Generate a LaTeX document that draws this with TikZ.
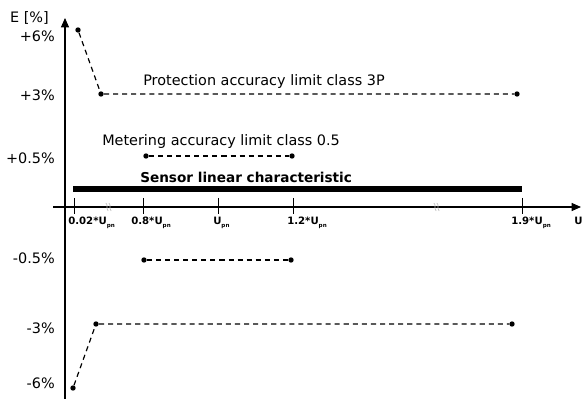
\documentclass[tikz,border=0pt]{standalone}
\usepackage{fontspec}
\setmainfont{DejaVu Sans}
\usetikzlibrary{arrows.meta}
\newcommand\Upn{U\raisebox{-0.5ex}{\fontsize{4.2}{4.5}\selectfont pn}}
\begin{document}
\begin{tikzpicture}[x=0.75pt,y=-0.75pt,
  axis/.style={line width=0.8pt,-{Triangle[length=7pt,width=6pt]}},
  limit/.style={line width=0.9pt,dash pattern=on 3.8pt off 3pt},
  pt/.style={circle,fill=black,inner sep=0pt,minimum size=4pt},
  lbl/.style={font=\fontsize{10.8}{12}\selectfont,inner sep=0pt},
  pct/.style={lbl,anchor=east},
  ticklbl/.style={font=\bfseries\fontsize{7.6}{8}\selectfont,inner sep=0pt,anchor=west},
  brk/.style={draw=gray!55,line width=0.45pt}]
\useasboundingbox (0,0) rectangle (582,399);

% axes
\coordinate (ybot) at (65,402);
\coordinate (ytop) at (65,18);
\coordinate (xl) at (53,207);
\coordinate (xr) at (581,207);
\draw[axis] (ybot) -- (ytop);
\draw[axis] (xl) -- (xr);
\node[lbl,anchor=east] (ey) at (49,18) {E [\%]};
\node[ticklbl] (ux) at (574,223) {\Upn};

% ticks on the voltage axis
\foreach \n/\x in {t1/74,t2/143,t3/218,t4/293,t5/522}{
  \coordinate (\n a) at (\x,198);
  \coordinate (\n b) at (\x,214);
  \draw[line width=0.75pt] (\n a) -- (\n b);
}
\node[ticklbl] (l1) at (68,223) {0.02*\Upn};
\node[ticklbl] (l2) at (131,223) {0.8*\Upn};
\node[ticklbl] (l3) at (213,223) {\Upn};
\node[ticklbl] (l4) at (287,223) {1.2*\Upn};
\node[ticklbl] (l5) at (511,223) {1.9*\Upn};

% axis break marks
\foreach \x in {107,435}{
  \foreach \d in {0,3}{
    \draw[brk] (\x+\d-1.2,203) .. controls (\x+\d+1.5,205) and (\x+\d-1.5,208) .. (\x+\d+1.2,211);
  }
}

% percentage labels
\node[pct] (p6)  at (55,36)  {+6\%};
\node[pct] (p3)  at (55,95)  {+3\%};
\node[pct] (p05) at (55,158) {+0.5\%};
\node[pct] (m05) at (55,258) {-0.5\%};
\node[pct] (m3)  at (55,328) {-3\%};
\node[pct] (m6)  at (55,383) {-6\%};

% sensor linear characteristic
\coordinate (s1) at (73,189);
\coordinate (s2) at (522,189);
\draw[line width=3.8pt] (s1) -- (s2);
\node[font=\bfseries\fontsize{10.2}{11}\selectfont,inner sep=0pt,anchor=west] (sl) at (140,177) {Sensor linear characteristic};

% protection accuracy limit (upper)
\node[pt] (a1) at (78,30) {};
\node[pt] (a2) at (101,94) {};
\node[pt] (a3) at (517,94) {};
\draw[limit] (a1) -- (a2) -- (a3);
\node[lbl,anchor=west] (al) at (143,82) {Protection accuracy limit class 3P};

% metering accuracy limit (upper)
\node[pt] (b1) at (146,156) {};
\node[pt] (b2) at (292,156) {};
\draw[limit] (b1) -- (b2);
\node[lbl,anchor=west] (bl) at (102,142) {Metering accuracy limit class 0.5};

% metering accuracy limit (lower)
\node[pt] (c1) at (144,260) {};
\node[pt] (c2) at (291,260) {};
\draw[limit] (c1) -- (c2);

% protection accuracy limit (lower)
\node[pt] (d1) at (73,388) {};
\node[pt] (d2) at (96,324) {};
\node[pt] (d3) at (512,324) {};
\draw[limit] (d1) -- (d2) -- (d3);
\end{tikzpicture}
\end{document}
